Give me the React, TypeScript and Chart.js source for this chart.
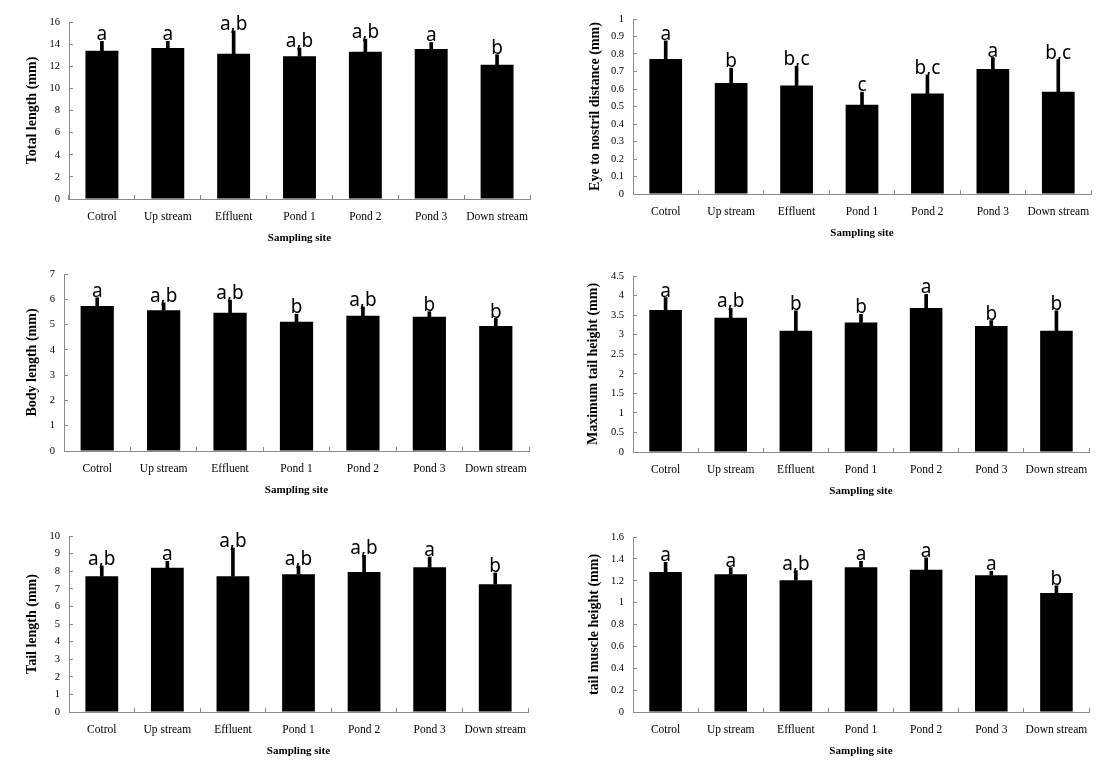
import React, { useEffect, useRef } from 'react';
import { Chart, registerables } from 'chart.js';

Chart.register(...registerables);

const categories = ['Cotrol', 'Up stream', 'Effluent', 'Pond 1', 'Pond 2', 'Pond 3', 'Down stream'];

// Total length (mm)
const totalLengthMean = [13.4, 13.65, 13.13, 12.9, 13.3, 13.55, 12.14];
const totalLengthSd = [0.85, 0.6, 2.07, 0.75, 1.15, 0.6, 0.9];
const totalLengthLetters = ['a', 'a', 'a,b', 'a,b', 'a,b', 'a', 'b'];
const totalLengthTicks = ['0', '2', '4', '6', '8', '10', '12', '14', '16'];

// Eye to nostril distance (mm)
const eyeNostrilMean = [0.772, 0.635, 0.62, 0.51, 0.574, 0.715, 0.585];
const eyeNostrilSd = [0.103, 0.084, 0.11, 0.072, 0.106, 0.065, 0.183];
const eyeNostrilLetters = ['a', 'b', 'b,c', 'c', 'b,c', 'a', 'b,c'];
const eyeNostrilTicks = ['0', '0.1', '0.2', '0.3', '0.4', '0.5', '0.6', '0.7', '0.8', '0.9', '1'];

// Body length (mm)
const bodyLengthMean = [5.73, 5.57, 5.47, 5.11, 5.35, 5.31, 4.94];
const bodyLengthSd = [0.33, 0.29, 0.5, 0.3, 0.35, 0.2, 0.3];
const bodyLengthLetters = ['a', 'a,b', 'a,b', 'b', 'a,b', 'b', 'b'];
const bodyLengthTicks = ['0', '1', '2', '3', '4', '5', '6', '7'];

// Maximum tail height (mm)
const maxTailMean = [3.63, 3.43, 3.1, 3.31, 3.68, 3.22, 3.1];
const maxTailSd = [0.32, 0.24, 0.51, 0.21, 0.35, 0.14, 0.51];
const maxTailLetters = ['a', 'a,b', 'b', 'b', 'a', 'b', 'b'];
const maxTailTicks = ['0', '0.5', '1', '1.5', '2', '2.5', '3', '3.5', '4', '4.5'];

// Tail length (mm)
const tailLengthMean = [7.71, 8.2, 7.71, 7.83, 7.96, 8.22, 7.26];
const tailLengthSd = [0.59, 0.36, 1.61, 0.47, 0.94, 0.59, 0.64];
const tailLengthLetters = ['a,b', 'a', 'a,b', 'a,b', 'a,b', 'a', 'b'];
const tailLengthTicks = ['0', '1', '2', '3', '4', '5', '6', '7', '8', '9', '10'];

// tail muscle height (mm)
const tailMuscleMean = [1.281, 1.26, 1.205, 1.324, 1.3, 1.251, 1.087];
const tailMuscleSd = [0.088, 0.06, 0.088, 0.054, 0.11, 0.036, 0.067];
const tailMuscleLetters = ['a', 'a', 'a,b', 'a', 'a', 'a', 'b'];
const tailMuscleTicks = ['0', '0.2', '0.4', '0.6', '0.8', '1', '1.2', '1.4', '1.6'];

const SERIF = "'Liberation Serif', 'Times New Roman', serif";
const AXIS_GRAY = '#8a8a8a';

type PanelProps = {
  box: { x: number; y: number; w: number; h: number };
  area: { l: number; r: number; t: number; b: number };
  yTitleX: number;
  yTitle: string;
  yMax: number;
  yStep: number;
  yTickLabels: string[];
  means: number[];
  sds: number[];
  letters: string[];
};

const letterPlugin = {
  id: 'sigLetters',
  afterDatasetsDraw(chart: any) {
    const letters: string[] = chart.options.plugins.sigLetters.letters;
    const means: number[] = chart.options.plugins.sigLetters.means;
    const sds: number[] = chart.options.plugins.sigLetters.sds;
    const xs = chart.scales.x;
    const ys = chart.scales.y;
    const ctx = chart.ctx;
    ctx.save();
    ctx.fillStyle = '#000';
    ctx.font = "19px 'Noto Sans', 'DejaVu Sans', sans-serif";
    ctx.textAlign = 'center';
    ctx.textBaseline = 'alphabetic';
    letters.forEach((t, i) => {
      const x = xs.getPixelForValue(i);
      const y = ys.getPixelForValue(means[i] + sds[i]) - 1;
      ctx.fillText(t, x, y);
    });
    ctx.restore();
  },
};

function Panel(p: PanelProps) {
  const ref = useRef<HTMLCanvasElement | null>(null);
  useEffect(() => {
    if (!ref.current) return;
    const { w, h } = p.box;
    const { l, r, t, b } = p.area;
    const xTitleLh = 11 * 1.2;
    const yTitleLh = 14 * 1.2;
    const chart = new Chart(ref.current, {
      type: 'bar',
      data: {
        labels: categories,
        datasets: [
          {
            data: p.means,
            backgroundColor: '#000',
            borderWidth: 0,
            barPercentage: 0.5,
            categoryPercentage: 1,
            grouped: false,
            order: 2,
          } as any,
          {
            data: p.means.map((m, i) => [m, m + p.sds[i]]),
            backgroundColor: '#000',
            borderWidth: 0,
            barThickness: 3,
            grouped: false,
            order: 1,
          } as any,
        ],
      },
      options: {
        responsive: false,
        animation: false,
        layout: { padding: { left: 0, top: t, right: w - r, bottom: 0 } },
        plugins: {
          legend: { display: false },
          tooltip: { enabled: false },
          sigLetters: { letters: p.letters, means: p.means, sds: p.sds },
        } as any,
        scales: {
          x: {
            offset: true,
            grid: {
              display: true,
              drawOnChartArea: false,
              drawTicks: true,
              tickLength: -4,
              color: AXIS_GRAY,
              offset: true,
            },
            border: { display: true, color: AXIS_GRAY, width: 1 },
            ticks: {
              font: { family: SERIF, size: 11.5 },
              color: '#000',
              padding: 14.6,
              maxRotation: 0,
              autoSkip: false,
            },
            title: {
              display: true,
              text: 'Sampling site',
              font: { family: SERIF, size: 11, weight: 'bold' },
              color: '#000',
              padding: { top: 0, bottom: h - b - 39 - xTitleLh / 2 },
            },
            afterFit: (s: any) => {
              s.height = h - b;
              s.paddingLeft = 0;
              s.paddingRight = 0;
            },
          } as any,
          y: {
            min: 0,
            max: p.yMax,
            grid: {
              display: true,
              drawOnChartArea: false,
              drawTicks: true,
              tickLength: -4,
              color: AXIS_GRAY,
            },
            border: { display: true, color: AXIS_GRAY, width: 1 },
            ticks: {
              stepSize: p.yStep,
              font: { family: SERIF, size: 10.5 },
              color: '#000',
              padding: 13,
              callback: (v: any) => p.yTickLabels[Math.round(Number(v) / p.yStep)] ?? '',
            },
            title: {
              display: true,
              text: p.yTitle,
              font: { family: SERIF, size: 14, weight: 'bold' },
              color: '#000',
              padding: { top: p.yTitleX - yTitleLh / 2, bottom: 0 },
            },
            afterFit: (s: any) => {
              s.width = l;
              s.paddingTop = 0;
              s.paddingBottom = 0;
            },
          } as any,
        },
      },
      plugins: [letterPlugin],
    });
    return () => chart.destroy();
  }, []);
  return (
    <div style={{ position: 'absolute', left: p.box.x, top: p.box.y, width: p.box.w, height: p.box.h }}>
      <canvas ref={ref} width={p.box.w} height={p.box.h} style={{ display: 'block' }} />
    </div>
  );
}

export default function App() {
  return (
    <div style={{ position: 'absolute', left: 0, top: 0, width: 1119, height: 774, background: '#fff' }}>
      <Panel
        box={{ x: 0, y: 0, w: 560, h: 250 }}
        area={{ l: 69, r: 530, t: 22, b: 199 }}
        yTitleX={32}
        yTitle="Total length (mm)"
        yMax={16}
        yStep={2}
        yTickLabels={totalLengthTicks}
        means={totalLengthMean}
        sds={totalLengthSd}
        letters={totalLengthLetters}
      />
      <Panel
        box={{ x: 560, y: 0, w: 559, h: 250 }}
        area={{ l: 73, r: 531, t: 19, b: 194 }}
        yTitleX={35}
        yTitle="Eye to nostril distance (mm)"
        yMax={1}
        yStep={0.1}
        yTickLabels={eyeNostrilTicks}
        means={eyeNostrilMean}
        sds={eyeNostrilSd}
        letters={eyeNostrilLetters}
      />
      <Panel
        box={{ x: 0, y: 250, w: 560, h: 250 }}
        area={{ l: 64, r: 529, t: 24, b: 201 }}
        yTitleX={32}
        yTitle="Body length (mm)"
        yMax={7}
        yStep={1}
        yTickLabels={bodyLengthTicks}
        means={bodyLengthMean}
        sds={bodyLengthSd}
        letters={bodyLengthLetters}
      />
      <Panel
        box={{ x: 560, y: 250, w: 559, h: 250 }}
        area={{ l: 73, r: 529, t: 26, b: 202 }}
        yTitleX={33}
        yTitle="Maximum tail height (mm)"
        yMax={4.5}
        yStep={0.5}
        yTickLabels={maxTailTicks}
        means={maxTailMean}
        sds={maxTailSd}
        letters={maxTailLetters}
      />
      <Panel
        box={{ x: 0, y: 500, w: 560, h: 274 }}
        area={{ l: 69, r: 528, t: 36, b: 212 }}
        yTitleX={32}
        yTitle="Tail length (mm)"
        yMax={10}
        yStep={1}
        yTickLabels={tailLengthTicks}
        means={tailLengthMean}
        sds={tailLengthSd}
        letters={tailLengthLetters}
      />
      <Panel
        box={{ x: 560, y: 500, w: 559, h: 274 }}
        area={{ l: 73, r: 529, t: 37, b: 212 }}
        yTitleX={34}
        yTitle="tail muscle height (mm)"
        yMax={1.6}
        yStep={0.2}
        yTickLabels={tailMuscleTicks}
        means={tailMuscleMean}
        sds={tailMuscleSd}
        letters={tailMuscleLetters}
      />
    </div>
  );
}
